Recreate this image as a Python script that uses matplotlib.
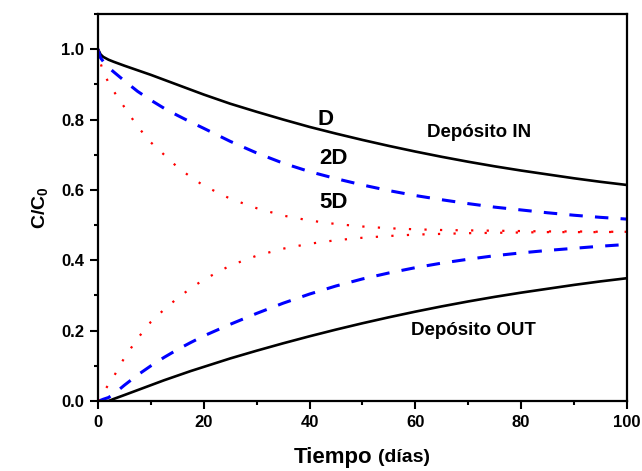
import matplotlib
matplotlib.use('Agg')
import matplotlib.pyplot as plt
from matplotlib.ticker import MultipleLocator

plt.rcParams['font.family'] = ['Liberation Sans', 'DejaVu Sans']
plt.rcParams['font.weight'] = 'bold'
plt.rcParams['mathtext.fontset'] = 'custom'
plt.rcParams['mathtext.rm'] = 'Liberation Sans:bold'
plt.rcParams['mathtext.it'] = 'Liberation Sans:bold'
plt.rcParams['mathtext.bf'] = 'Liberation Sans:bold'

# tiempo (dias)
t = [0, 0.5, 1, 2, 3, 5, 7.5, 10, 12.5, 15, 17.5, 20, 25, 30, 35, 40,
     45, 50, 55, 60, 65, 70, 75, 80, 85, 90, 95, 100]

# C/C0, deposito IN y OUT para D, 2D y 5D
d_in = [1.0, 0.985, 0.978, 0.970, 0.964, 0.953, 0.940, 0.927, 0.913, 0.899,
        0.885, 0.871, 0.845, 0.822, 0.800, 0.779, 0.760, 0.742, 0.725, 0.709,
        0.694, 0.680, 0.667, 0.655, 0.644, 0.633, 0.623, 0.614]
d_out = [0.0, 0.0, 0.0, 0.0, 0.006, 0.017, 0.031, 0.045, 0.059, 0.072,
         0.085, 0.097, 0.121, 0.143, 0.164, 0.184, 0.203, 0.221, 0.238, 0.254,
         0.269, 0.283, 0.296, 0.308, 0.319, 0.330, 0.340, 0.349]
d2_in = [1.0, 0.975, 0.965, 0.948, 0.935, 0.910, 0.880, 0.855, 0.832, 0.812,
         0.793, 0.775, 0.738, 0.705, 0.676, 0.652, 0.632, 0.614, 0.598, 0.584,
         0.572, 0.561, 0.551, 0.543, 0.535, 0.528, 0.522, 0.517]
d2_out = [0.0, 0.002, 0.005, 0.010, 0.020, 0.045, 0.074, 0.100, 0.124, 0.146,
          0.166, 0.185, 0.218, 0.249, 0.278, 0.304, 0.327, 0.347, 0.364, 0.379,
          0.392, 0.403, 0.413, 0.421, 0.428, 0.434, 0.440, 0.445]
d5_in = [1.0, 0.960, 0.935, 0.905, 0.880, 0.835, 0.780, 0.735, 0.700, 0.665,
         0.637, 0.612, 0.575, 0.548, 0.527, 0.513, 0.503, 0.496, 0.491, 0.488,
         0.486, 0.485, 0.484, 0.483, 0.482, 0.482, 0.481, 0.481]
d5_out = [0.0, 0.012, 0.024, 0.047, 0.070, 0.123, 0.178, 0.225, 0.260, 0.292,
          0.320, 0.345, 0.385, 0.413, 0.433, 0.447, 0.457, 0.464, 0.469, 0.473,
          0.475, 0.477, 0.478, 0.479, 0.480, 0.480, 0.480, 0.481]

fig = plt.figure(figsize=(6.42, 4.71), dpi=100)
ax = fig.add_axes([0.1526, 0.1486, 0.824, 0.8217])

ax.plot(t, d_in, color='black', lw=1.9)
ax.plot(t, d_out, color='black', lw=1.9)
ax.plot(t, d2_in, color='#0000ff', lw=2.2, ls=(0, (4.4, 4.0)))
ax.plot(t, d2_out, color='#0000ff', lw=2.2, ls=(0, (4.4, 4.0)))
ax.plot(t, d5_in, color='#ff0000', lw=1.6, ls=(0, (1, 6)))
ax.plot(t, d5_out, color='#ff0000', lw=1.6, ls=(0, (1, 6)))

ax.set_xlim(0, 100)
ax.set_ylim(0, 1.1)
ax.xaxis.set_major_locator(MultipleLocator(20))
ax.xaxis.set_minor_locator(MultipleLocator(10))
ax.yaxis.set_major_locator(MultipleLocator(0.2))
ax.yaxis.set_minor_locator(MultipleLocator(0.1))
ax.yaxis.set_major_formatter(matplotlib.ticker.FormatStrFormatter('%.1f'))
ax.tick_params(which='major', direction='out', length=6, width=1.5,
               labelsize=12, pad=4)
ax.tick_params(which='minor', direction='out', length=3, width=1.5)
for sp in ax.spines.values():
    sp.set_linewidth(1.6)

ax.set_ylabel('C/C$_0$', fontsize=14, fontweight='bold', labelpad=8)
ax.text(0.518, -0.145, 'Tiempo', transform=ax.transAxes, fontsize=16,
        fontweight='bold', ha='right', va='center')
ax.text(0.53, -0.145, '(días)', transform=ax.transAxes, fontsize=14,
        fontweight='bold', ha='left', va='center')

ax.text(43, 0.8, 'D', fontsize=16, fontweight='bold', ha='center', va='center')
ax.text(44.5, 0.69, '2D', fontsize=16, fontweight='bold', ha='center', va='center')
ax.text(44.5, 0.563, '5D', fontsize=16, fontweight='bold', ha='center', va='center')
ax.text(72, 0.762, 'Depósito IN', fontsize=13.5, fontweight='bold',
        ha='center', va='center')
ax.text(71, 0.2, 'Depósito OUT', fontsize=13.5, fontweight='bold',
        ha='center', va='center')

fig.savefig('out.png', dpi=100)
